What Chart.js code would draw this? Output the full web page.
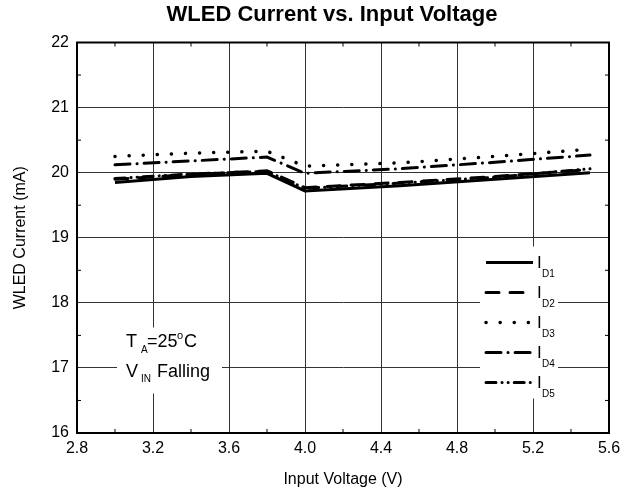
<!DOCTYPE html>
<html>
<head>
<meta charset="utf-8">
<script src="https://cdn.jsdelivr.net/npm/chart.js@4/dist/chart.umd.min.js"></script>
<style>
  html, body { margin: 0; padding: 0; background: #fff; }
  #wrap { width: 634px; height: 500px; }
</style>
</head>
<body>
<div id="wrap"><canvas id="chart"></canvas></div>
<script>
// Datos (V_IN descendente, TA = 25 C)
const voltaje = [3.0, 3.4, 3.8, 4.0, 4.5, 5.0, 5.5];
const iD1 = [19.85, 19.94, 19.99, 19.72, 19.80, 19.90, 20.00];
const iD2 = [19.90, 19.97, 20.03, 19.77, 19.85, 19.94, 20.05];
const iD3 = [20.25, 20.30, 20.33, 20.10, 20.15, 20.25, 20.36];
const iD4 = [20.12, 20.18, 20.24, 19.99, 20.06, 20.16, 20.27];
const iD5 = [19.91, 19.98, 20.02, 19.76, 19.84, 19.93, 20.06];
const nombres = ['D1', 'D2', 'D3', 'D4', 'D5'];
const ticksX = [2.8, 3.2, 3.6, 4.0, 4.4, 4.8, 5.2, 5.6];
const ticksY = [16, 17, 18, 19, 20, 21, 22];
const titulo = 'WLED Current vs. Input Voltage';

const fuente = 'Liberation Sans, Arial, sans-serif';

// Estilos de linea para cada corriente
const estilos = [
    { dash: [], ancho: 3 },
    { dash: [13, 11], ancho: 3 },
    { dash: [0.1, 14], ancho: 3.5 },
    { dash: [15, 7, 0.1, 7], ancho: 3 },
    { dash: [10, 6, 0.1, 6, 0.1, 6], ancho: 3 }
];

const series = [iD1, iD2, iD3, iD4, iD5];
const datasets = series.map((valores, i) => ({
    label: 'I' + nombres[i],
    data: voltaje.map((v, j) => ({ x: v, y: valores[j] })),
    borderColor: '#000',
    borderWidth: estilos[i].ancho,
    borderDash: estilos[i].dash,
    borderCapStyle: i === 0 ? 'butt' : 'round',
    pointRadius: 0,
    tension: 0,
    fill: false
}));

// Marco, marcas menores, cajas blancas y textos
const extras = {
    id: 'extras',
    beforeDatasetsDraw(chart) {
        const { ctx, chartArea: a, scales: { x, y } } = chart;
        ctx.save();
        // cajas blancas detras de leyenda y anotacion
        ctx.fillStyle = '#fff';
        ctx.fillRect(a.right - 129, a.top + 204, 78, 152);
        ctx.fillRect(a.left + 40, a.top + 285, 105, 66);
        // marco
        ctx.strokeStyle = '#000';
        ctx.lineWidth = 2;
        ctx.strokeRect(a.left, a.top, a.right - a.left, a.bottom - a.top);
        // marcas menores hacia dentro
        ctx.lineWidth = 1;
        ctx.beginPath();
        for (let k = 0; k < ticksX.length - 1; k++) {
            const px = x.getPixelForValue((ticksX[k] + ticksX[k + 1]) / 2);
            ctx.moveTo(px, a.top); ctx.lineTo(px, a.top + 4);
            ctx.moveTo(px, a.bottom); ctx.lineTo(px, a.bottom - 4);
        }
        for (let k = 0; k < ticksY.length - 1; k++) {
            const py = y.getPixelForValue((ticksY[k] + ticksY[k + 1]) / 2);
            ctx.moveTo(a.left, py); ctx.lineTo(a.left + 4, py);
            ctx.moveTo(a.right, py); ctx.lineTo(a.right - 4, py);
        }
        ctx.stroke();
        ctx.restore();
    },
    afterDraw(chart) {
        const { ctx, chartArea: a } = chart;
        ctx.save();
        ctx.fillStyle = '#000';
        ctx.textBaseline = 'alphabetic';
        // titulo
        ctx.textAlign = 'center';
        ctx.font = 'bold 22px ' + fuente;
        ctx.fillText(titulo, a.left + 255, 21);
        ctx.textAlign = 'left';
        // leyenda
        const x0 = a.right - 123, x1 = a.right - 76;
        chart.data.datasets.forEach((ds, i) => {
            const yy = a.top + 220 + i * 30;
            ctx.strokeStyle = '#000';
            ctx.lineWidth = ds.borderWidth;
            ctx.lineCap = ds.borderCapStyle;
            ctx.setLineDash(ds.borderDash);
            ctx.beginPath();
            ctx.moveTo(x0, yy);
            ctx.lineTo(x1, yy);
            ctx.stroke();
            ctx.setLineDash([]);
            ctx.font = '17px ' + fuente;
            ctx.fillText('I', x1 + 4, yy + 5.5);
            ctx.font = '10px ' + fuente;
            ctx.fillText(nombres[i], x1 + 9, yy + 14);
        });
        // anotacion
        const tx = a.left + 49;
        ctx.font = '18px ' + fuente;
        ctx.fillText('T', tx, a.top + 304);
        ctx.font = '10px ' + fuente;
        ctx.fillText('A', tx + 15, a.top + 310.5);
        ctx.font = '18px ' + fuente;
        ctx.fillText('=25', tx + 21, a.top + 304);
        ctx.font = '11px ' + fuente;
        ctx.fillText('o', tx + 51, a.top + 296);
        ctx.font = '18px ' + fuente;
        ctx.fillText('C', tx + 58, a.top + 304);
        ctx.fillText('V', tx, a.top + 334);
        ctx.font = '10px ' + fuente;
        ctx.fillText('IN', tx + 15, a.top + 339);
        ctx.font = '18px ' + fuente;
        ctx.fillText('Falling', tx + 31, a.top + 334);
        ctx.restore();
    }
};

new Chart(document.getElementById('chart'), {
    type: 'line',
    data: { datasets: datasets },
    options: {
        responsive: true,
        maintainAspectRatio: false,
        animation: false,
        layout: { padding: { top: 42.5, right: 25, left: 0, bottom: 0 } },
        plugins: {
            legend: { display: false },
            tooltip: { enabled: false },
            title: { display: false }
        },
        scales: {
            x: {
                type: 'linear',
                min: 2.8,
                max: 5.6,
                afterBuildTicks: s => { s.ticks = ticksX.map(v => ({ value: v })); },
                afterFit: s => { s.height = 67; },
                ticks: {
                    color: '#000',
                    padding: 6,
                    maxRotation: 0,
                    font: { family: fuente, size: 16 },
                    callback: v => v.toFixed(1)
                },
                grid: { color: '#333', lineWidth: 1, drawTicks: false },
                border: { color: '#000', width: 2 },
                title: {
                    display: true,
                    text: 'Input Voltage (V)',
                    color: '#000',
                    font: { family: fuente, size: 16 },
                    padding: { top: 0, bottom: 11 }
                }
            },
            y: {
                min: 16,
                max: 22,
                afterBuildTicks: s => { s.ticks = ticksY.map(v => ({ value: v })); },
                afterFit: s => { s.width = 77; },
                ticks: {
                    color: '#000',
                    padding: 8,
                    font: { family: fuente, size: 16 }
                },
                grid: { color: '#333', lineWidth: 1, drawTicks: false },
                border: { color: '#000', width: 2 },
                title: {
                    display: true,
                    text: 'WLED Current (mA)',
                    color: '#000',
                    font: { family: fuente, size: 16 },
                    padding: { top: 11, bottom: 0 }
                }
            }
        }
    },
    plugins: [extras]
});
</script>
</body>
</html>
